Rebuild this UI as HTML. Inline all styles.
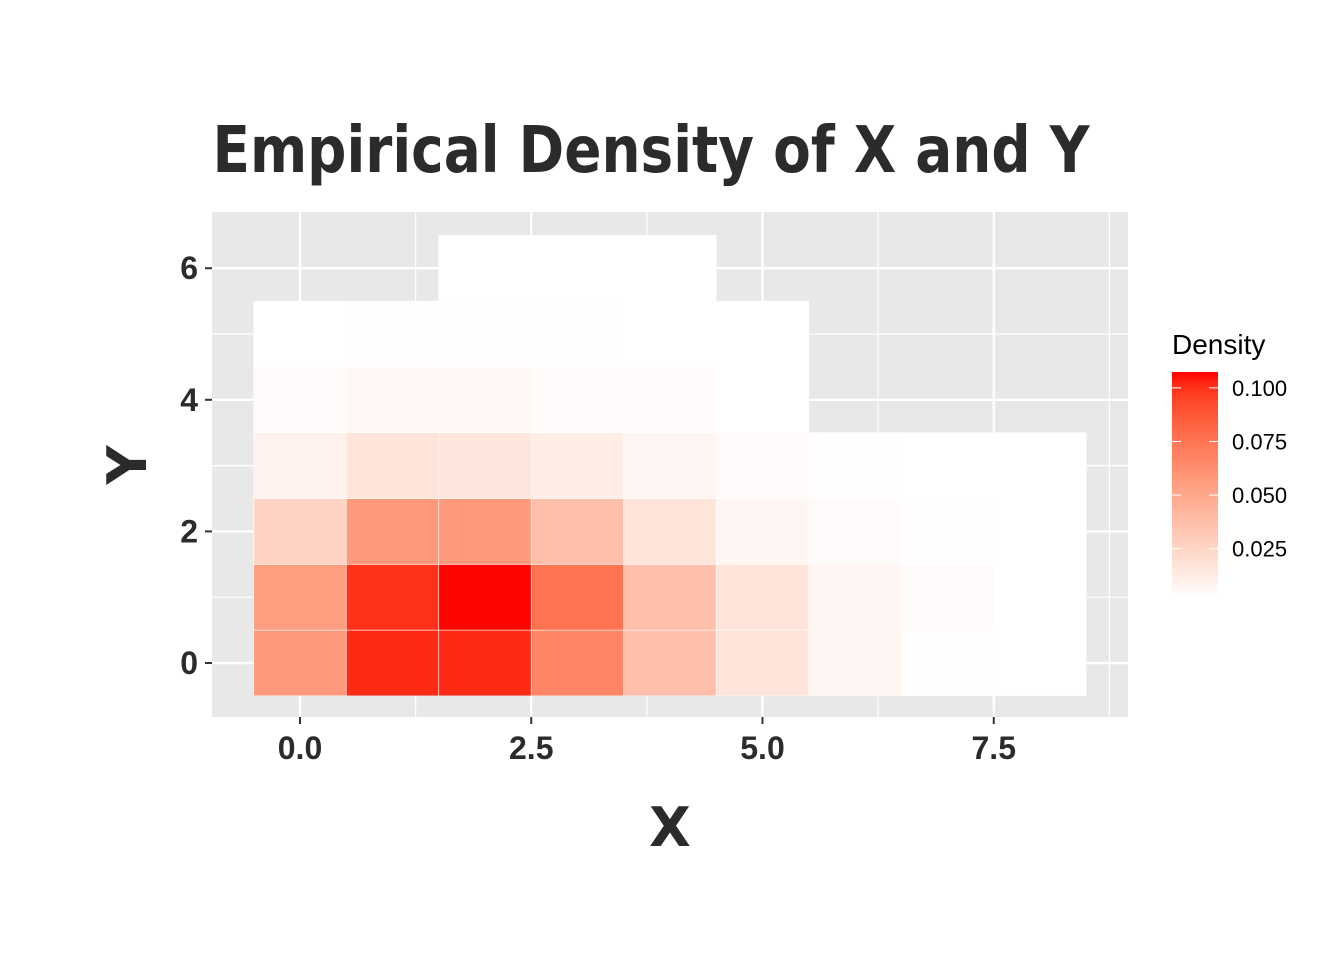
<!DOCTYPE html>
<html><head><meta charset="utf-8"><style>
html,body{margin:0;padding:0;background:#fff;}
svg{display:block;font-family:"Liberation Sans",sans-serif;}
</style></head><body>
<svg id="chart" width="1344" height="960" xmlns="http://www.w3.org/2000/svg">
<defs><linearGradient id="lg" x1="0" y1="1" x2="0" y2="0"></linearGradient></defs>
<text x="651" y="172" text-anchor="middle" font-size="64" font-weight="bold" fill="#2b2b2b" textLength="877" lengthAdjust="spacingAndGlyphs" font-family="'DejaVu Sans',sans-serif">Empirical Density of X and Y</text>
<rect x="212" y="212" width="916" height="505" fill="#e8e8e8"/>
<g id="grid"></g>
<g id="tiles"></g>
<g id="axes"></g>
<text x="670" y="846" text-anchor="middle" font-size="54" font-weight="bold" fill="#2b2b2b" font-family="'DejaVu Sans',sans-serif">X</text>
<text transform="translate(146,465) rotate(-90)" text-anchor="middle" font-size="54" font-weight="bold" fill="#2b2b2b" font-family="'DejaVu Sans',sans-serif">Y</text>
<g>
<text x="1172" y="354" font-size="28" fill="#000">Density</text>
<rect x="1172" y="372" width="46" height="226" fill="url(#lg)"/>
<g id="legticks"></g>
</g>
</svg>
<script>
const xCats=[0,1,2,3,4,5,6,7,8];
const yCats=[0,1,2,3,4,5,6];
const densRows=[
[0.057,0.102,0.102,0.067,0.037,0.017,0.007,0.003,0.002],
[0.055,0.100,0.107,0.076,0.037,0.017,0.007,0.004,0.002],
[0.026,0.057,0.057,0.037,0.017,0.007,0.004,0.003,0.002],
[0.010,0.017,0.016,0.012,0.007,0.004,0.003,0.002,0.002],
[0.004,0.006,0.006,0.004,0.004,0.002,null,null,null],
[0.002,0.003,0.003,0.003,0.002,0.002,null,null,null],
[null,null,0.002,0.002,0.002,null,null,null,null]
];
const xTicks=[0,2.5,5,7.5];
const xTickLabels=["0.0","2.5","5.0","7.5"];
const yTicks=[0,2,4,6];
const yTickLabels=["0","2","4","6"];
const legTicks=[0.025,0.05,0.075,0.1];
const legTickLabels=["0.025","0.050","0.075","0.100"];
const dMin=0.002,dMax=0.1074;
const NS="http://www.w3.org/2000/svg";
function sx(v){return 300+v*92.5;}
function sy(v){return 663-v*65.8;}
function ly(v){return 598-(v-dMin)/(dMax-dMin)*226;}
function toLin(c){c/=255;return c<=0.04045?c/12.92:Math.pow((c+0.055)/1.055,2.4);}
function fromLin(c){c=c<=0.0031308?12.92*c:1.055*Math.pow(c,1/2.4)-0.055;return Math.round(Math.max(0,Math.min(1,c))*255);}
const Xn=0.95047,Yn=1,Zn=1.08883;
function f(t){return t>0.008856?Math.cbrt(t):7.787*t+16/116;}
function fi(t){return t>0.206893?t*t*t:(t-16/116)/7.787;}
function rgb2lab(r,g,b){r=toLin(r);g=toLin(g);b=toLin(b);
const X=0.4124*r+0.3576*g+0.1805*b,Y=0.2126*r+0.7152*g+0.0722*b,Z=0.0193*r+0.1192*g+0.9505*b;
const fx=f(X/Xn),fy=f(Y/Yn),fz=f(Z/Zn);return [116*fy-16,500*(fx-fy),200*(fy-fz)];}
function lab2rgb(L,a,bb){const fy=(L+16)/116,fx=fy+a/500,fz=fy-bb/200;
const X=Xn*fi(fx),Y=Yn*fi(fy),Z=Zn*fi(fz);
const r=3.2406*X-1.5372*Y-0.4986*Z,g=-0.9689*X+1.8758*Y+0.0415*Z,b=0.0557*X-0.2040*Y+1.0570*Z;
return `rgb(${fromLin(r)},${fromLin(g)},${fromLin(b)})`;}
const labW=rgb2lab(255,255,255),labR=rgb2lab(255,0,0);
function colT(t){t=Math.max(0,Math.min(1,t));return lab2rgb(labW[0]+(labR[0]-labW[0])*t,labW[1]+(labR[1]-labW[1])*t,labW[2]+(labR[2]-labW[2])*t);}
function col(d){return colT((d-dMin)/(dMax-dMin));}
function mk(tag,attrs,parent){const e=document.createElementNS(NS,tag);for(const k in attrs)e.setAttribute(k,attrs[k]);parent.appendChild(e);return e;}
const lg=document.getElementById('lg');
for(let i=0;i<=20;i++){mk('stop',{offset:i/20,'stop-color':colT(i/20)},lg);}
const grid=document.getElementById('grid');
[-1.25,1.25,3.75,6.25,8.75].forEach(v=>{const X=sx(v);if(X>212&&X<1128){const l=mk('line',{x1:X,x2:X,y1:212,y2:717,stroke:'#fff','stroke-width':1.2},grid);

}});
[-1,1,3,5].forEach(v=>{const Y=sy(v);if(Y>212&&Y<717){const l=mk('line',{x1:212,x2:1128,y1:Y,y2:Y,stroke:'#fff','stroke-width':1.2},grid);

}});
xTicks.forEach(v=>{const l=mk('line',{x1:sx(v),x2:sx(v),y1:212,y2:717,stroke:'#fff','stroke-width':2.4},grid);

});
yTicks.forEach(v=>{const l=mk('line',{x1:212,x2:1128,y1:sy(v),y2:sy(v),stroke:'#fff','stroke-width':2.4},grid);

});
const tiles=document.getElementById('tiles');
yCats.forEach((yv,r)=>{xCats.forEach((xv,c)=>{const d=densRows[r][c];if(d==null)return;
const t=mk('rect',{x:sx(xv-0.5),y:sy(yv+0.5),width:sx(xv+0.5)-sx(xv-0.5),height:sy(yv-0.5)-sy(yv+0.5),fill:col(d),stroke:'#fff','stroke-width':0.6},tiles);

});});
const axes=document.getElementById('axes');
xTicks.forEach((v,i)=>{mk('line',{x1:sx(v),x2:sx(v),y1:717,y2:724,stroke:'#333','stroke-width':2},axes);
const t=mk('text',{x:sx(v),y:759,'text-anchor':'middle','font-size':32,'font-weight':'bold',fill:'#2b2b2b'},axes);t.textContent=xTickLabels[i];

});
yTicks.forEach((v,i)=>{mk('line',{x1:205,x2:212,y1:sy(v),y2:sy(v),stroke:'#333','stroke-width':2},axes);
const t=mk('text',{x:198,y:sy(v)+11,'text-anchor':'end','font-size':32,'font-weight':'bold',fill:'#2b2b2b'},axes);t.textContent=yTickLabels[i];

});
const lt=document.getElementById('legticks');
legTicks.forEach((v,i)=>{const Y=ly(v);
mk('line',{x1:1172,x2:1181,y1:Y,y2:Y,stroke:'#fff','stroke-width':1},lt);
mk('line',{x1:1209,x2:1218,y1:Y,y2:Y,stroke:'#fff','stroke-width':1},lt);
const t=mk('text',{x:1232,y:Y+8,'font-size':22,fill:'#000'},lt);t.textContent=legTickLabels[i];

});
</script>
</body></html>
